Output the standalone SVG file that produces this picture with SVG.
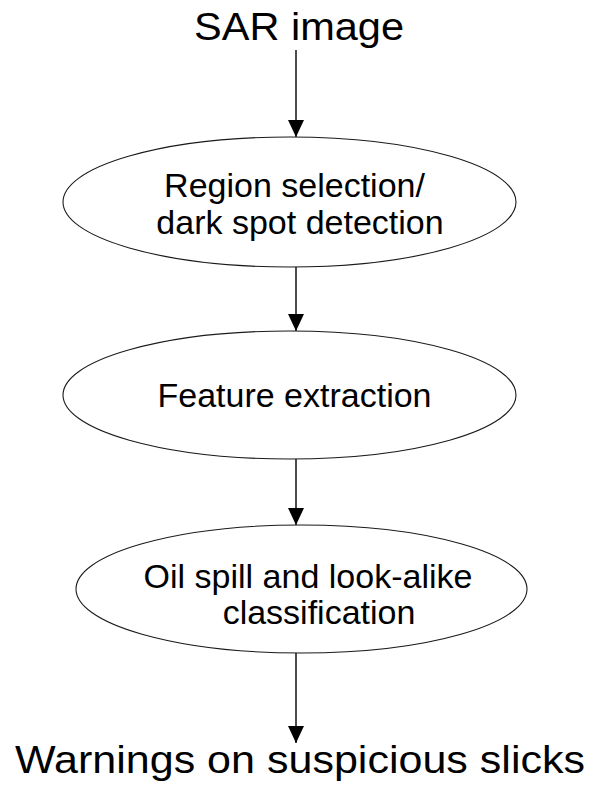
<svg xmlns="http://www.w3.org/2000/svg" width="590" height="787" viewBox="0 0 590 787">
  <style>
    .node ellipse { fill: #ffffff; stroke: #1a1a1a; stroke-width: 1.1; }
    .label { font-family: "Liberation Sans", Arial, sans-serif; font-size: 34px; fill: #000000; text-anchor: middle; }
    .term { font-family: "Liberation Sans", Arial, sans-serif; font-size: 38px; fill: #000000; }
    .edge { stroke: #000000; stroke-width: 1.4; fill: none; marker-end: url(#arrow); }
  </style>
  <defs>
    <!-- filled arrowhead, tip at the end of the line -->
    <marker id="arrow" markerUnits="userSpaceOnUse" markerWidth="17" markerHeight="16" refX="17" refY="8" orient="auto" viewBox="0 0 17 16">
      <path d="M0,0 L17,8 L0,16 Z" fill="#000000"/>
    </marker>
  </defs>
  <rect width="590" height="787" fill="#ffffff"/>

  <!-- connectors -->
  <g id="edges">
    <line class="edge" x1="296" y1="50" x2="296" y2="137"/>
    <line class="edge" x1="296" y1="267" x2="296" y2="331"/>
    <line class="edge" x1="296" y1="459" x2="296" y2="525"/>
    <line class="edge" x1="296" y1="653" x2="296" y2="743"/>
  </g>

  <g id="input">
    <text class="term" x="194" y="40" textLength="210" lengthAdjust="spacingAndGlyphs">SAR image</text>
  </g>

  <g id="region-selection" class="node">
    <ellipse cx="289.5" cy="202" rx="226.5" ry="65"/>
    <text class="label" x="294.5" y="197">Region selection/</text>
    <text class="label" x="300" y="234">dark spot detection</text>
  </g>

  <g id="feature-extraction" class="node">
    <ellipse cx="289.5" cy="395" rx="226.5" ry="64"/>
    <text class="label" x="294.5" y="407">Feature extraction</text>
  </g>

  <g id="classification" class="node">
    <ellipse cx="301.5" cy="589" rx="225.5" ry="64"/>
    <text class="label" x="308" y="588">Oil spill and look-alike</text>
    <text class="label" x="319" y="624">classification</text>
  </g>

  <g id="output">
    <text class="term" x="15" y="773" textLength="570" lengthAdjust="spacingAndGlyphs">Warnings on suspicious slicks</text>
  </g>
</svg>
